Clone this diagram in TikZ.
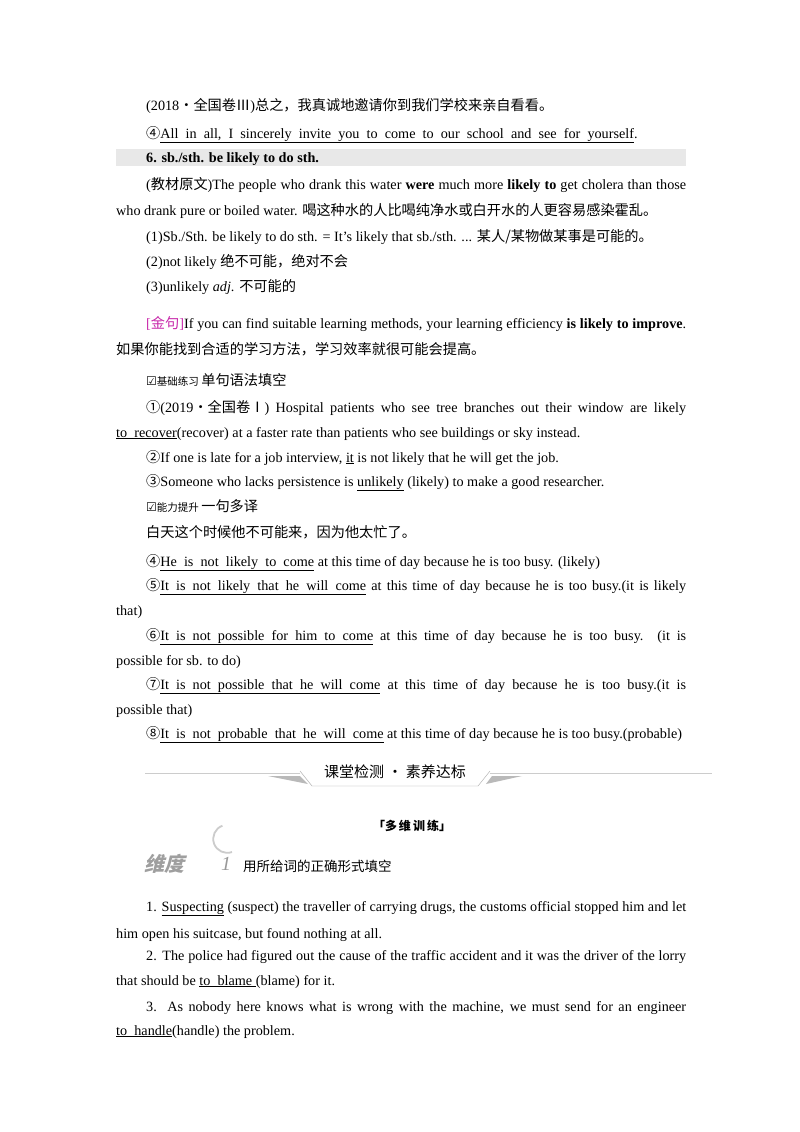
\documentclass[tikz,border=0pt]{standalone}
\usepackage{fontspec}
\setmainfont{Liberation Serif}
\newfontfamily\cjk{Noto Sans CJK SC}
\newfontfamily\djv{DejaVu Sans}
\tikzset{tl/.style={anchor=base west,inner sep=0pt,font=\fontsize{14.2}{16}\selectfont}}
\newcommand\tline[4]{\node[tl] (#1) at (#2,#3) {#4};}
\newcommand\tjust[5]{\node[tl] (#1) at (#2,#3) {\makebox[#4pt][s]{#5}};}
\newcommand\C[1]{{\cjk #1}}
\newcommand\U[1]{\underline{#1}}
\newcommand\B[1]{\textbf{#1}}
\definecolor{gold}{RGB}{200,40,170}
\definecolor{band}{RGB}{232,232,232}
\begin{document}
\begin{tikzpicture}[x=1pt,y=-1pt]
\useasboundingbox (0,0) rectangle (800,1132);
\fill[white] (0,0) rectangle (800,1132);
\fill[band] (116,149) rectangle (686,166);
\tline{a1}{146}{110}{(2018\C{·全国卷Ⅲ})\C{总之，我真诚地邀请你到我们学校来亲自看看。}}
\tline{a2}{146}{138}{\C{④}\U{All\ \ in\ \ all,\ \ I\ \ sincerely\ \ invite\ \ you\ \ to\ \ come\ \ to\ \ our\ \ school\ \ and\ \ see\ \ for\ \ yourself}.}
\tline{a3}{146}{162}{\B{6. sb./sth. be likely to do sth.}}
\tjust{a4}{146}{189}{540}{(\C{教材原文})The people who drank this water \B{were} much more \B{likely to} get cholera than those}
\tline{a5}{116}{215}{who drank pure or boiled water. \C{喝这种水的人比喝纯净水或白开水的人更容易感染霍乱。}}
\tline{a6}{146}{241}{(1)Sb./Sth. be likely to do sth. = It's likely that sb./sth. ... \C{某人/某物做某事是可能的。}}
\tline{a7}{146}{266}{(2)not likely \C{绝不可能，绝对不会}}
\tline{a8}{146}{291}{(3)unlikely \textit{adj}. \C{不可能的}}
\tjust{a9}{146}{328}{540}{\textcolor{gold}{[\C{金句}]}If you can find suitable learning methods, your learning efficiency \B{is likely to improve}.}
\tline{a10}{116}{354}{\C{如果你能找到合适的学习方法，学习效率就很可能会提高。}}
\tline{a11}{146}{385}{{\djv\fontsize{12}{14}\selectfont ☑}{\cjk\fontsize{10.5}{12}\selectfont 基础练习}\,\C{单句语法填空}}
\tjust{a12}{146}{412}{540}{\C{①}(2019\C{·全国卷Ⅰ}) Hospital patients who see tree branches out their window are likely}
\tline{a13}{116}{437}{\U{to\ \ recover}(recover) at a faster rate than patients who see buildings or sky instead.}
\tline{a14}{146}{462}{\C{②}If one is late for a job interview, \U{it} is not likely that he will get the job.}
\tline{a15}{146}{486}{\C{③}Someone who lacks persistence is \U{unlikely} (likely) to make a good researcher.}
\tline{a16}{146}{511}{{\djv\fontsize{12}{14}\selectfont ☑}{\cjk\fontsize{10.5}{12}\selectfont 能力提升}\,\C{一句多译}}
\tline{a17}{146}{537}{\C{白天这个时候他不可能来，因为他太忙了。}}
\tline{a18}{146}{566}{\C{④}\U{He\ \ is\ \ not\ \ likely\ \ to\ \ come} at this time of day because he is too busy. (likely)}
\tjust{a19}{146}{590}{540}{\C{⑤}\U{It\ \ is\ \ not\ \ likely\ \ that\ \ he\ \ will\ \ come} at this time of day because he is too busy.(it is likely}
\tline{a20}{116}{615}{that)}
\tjust{a21}{146}{640}{540}{\C{⑥}\U{It\ \ is\ \ not\ \ possible\ \ for\ \ him\ \ to\ \ come} at this time of day because he is too busy. (it is}
\tline{a22}{116}{665}{possible for sb. to do)}
\tjust{a23}{146}{689}{540}{\C{⑦}\U{It\ \ is\ \ not\ \ possible\ \ that\ \ he\ \ will\ \ come} at this time of day because he is too busy.(it is}
\tline{a24}{116}{714}{possible that)}
\tline{a25}{146}{738}{\C{⑧}\U{It\ \ is\ \ not\ \ probable\ \ that\ \ he\ \ will\ \ come} at this time of day because he is too busy.(probable)}
% header band
\draw[gray!40,line width=0.8pt] (145,773) -- (300,773);
\draw[gray!40,line width=0.8pt] (490,773) -- (712,773);
\fill[gray!55] (268,776) -- (300,776) -- (308,784) -- cycle;
\fill[gray!55] (492,776) -- (522,776) -- (486,784) -- cycle;
\draw[gray!70] (300,771) -- (312,786) -- (478,786) -- (490,771);
\node[inner sep=0,font=\cjk\fontsize{15}{18}\selectfont] (hd) at (395,772) {课堂检测 · 素养达标};
\node[inner sep=0,font=\cjk\bfseries\fontsize{12}{14}\selectfont] (dw) at (412,826) {「多\,维\,训\,练」};
\node[inner sep=0,anchor=west,font=\cjk\bfseries\fontsize{20}{22}\selectfont,text=gray!75,xslant=0.25] (wd) at (146,864) {维度};
\draw[gray!40,line width=1.8pt] (232,852) arc[start angle=70,end angle=250,radius=14];
\node[inner sep=0,font=\itshape\fontsize{20}{22}\selectfont,text=gray!80] (w1) at (226,864) {1};
\node[inner sep=0,anchor=west,font=\cjk\fontsize{13.5}{16}\selectfont] (wt) at (243,866) {用所给词的正确形式填空};
\tjust{b1}{146}{911}{540}{1. \U{Suspecting} (suspect) the traveller of carrying drugs, the customs official stopped him and let}
\tline{b2}{116}{938}{him open his suitcase, but found nothing at all.}
\tjust{b3}{146}{960}{540}{2. The police had figured out the cause of the traffic accident and it was the driver of the lorry}
\tline{b4}{116}{985}{that should be \U{to\ \ blame\ }(blame) for it.}
\tjust{b5}{146}{1011}{540}{3. As nobody here knows what is wrong with the machine, we must send for an engineer}
\tline{b6}{116}{1035}{\U{to\ \ handle}(handle) the problem.}
\end{tikzpicture}
\end{document}
